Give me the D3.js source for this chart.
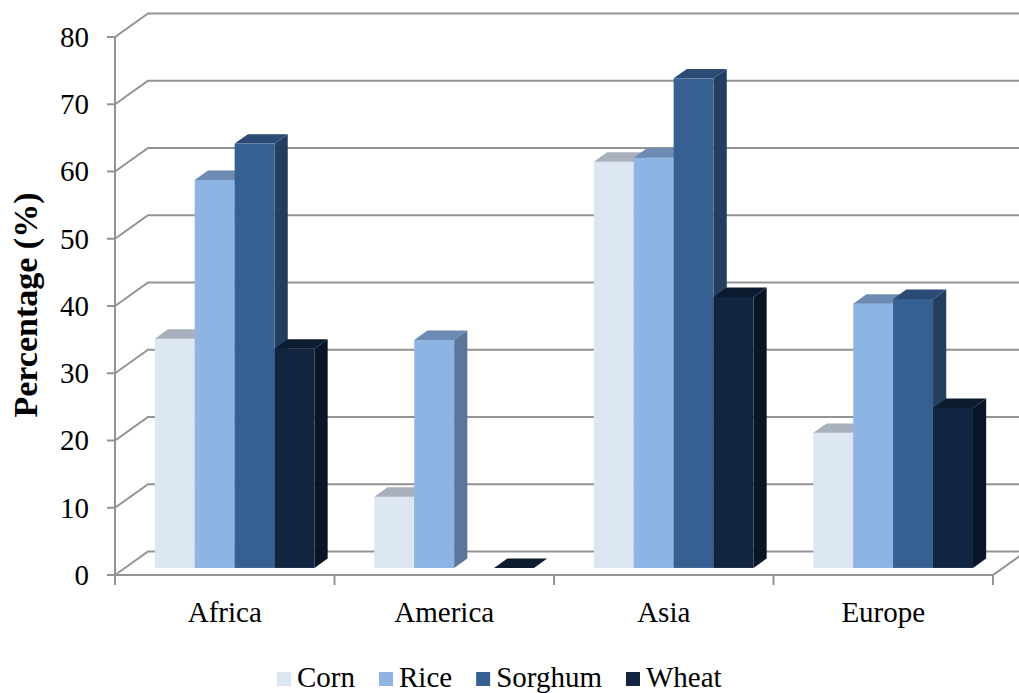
<!DOCTYPE html>
<html>
<head>
<meta charset="utf-8">
<script src="https://cdn.jsdelivr.net/npm/d3@7"></script>
<style>
  html, body { margin: 0; padding: 0; background: #fff; }
  svg { display: block; }
</style>
</head>
<body>
<script>
// Share of samples per region and cereal (%)
const regions = ["Africa", "America", "Asia", "Europe"];
const cereals = ["Corn", "Rice", "Sorghum", "Wheat"];
const corn    = [34.1, 10.6, 60.4, 20.1];
const rice    = [57.7, 33.9, 61.0, 39.3];
const sorghum = [63.1, null, 72.8, 40.0];
const wheat   = [32.6, 0,    40.3, 23.8];
const yTicks  = [0, 10, 20, 30, 40, 50, 60, 70, 80];

const seriesValues = { Corn: corn, Rice: rice, Sorghum: sorghum, Wheat: wheat };

// face colours: front, top, side
const palette = {
  Corn:    { front: "#dce6f2", top: "#a7b0bc", side: "#aab5c3" },
  Rice:    { front: "#8eb4e3", top: "#6d8ab2", side: "#5b769b" },
  Sorghum: { front: "#366092", top: "#2b4b74", side: "#243e5f" },
  Wheat:   { front: "#112540", top: "#0c1b30", side: "#0a1627" }
};

const FONT = "Liberation Serif";

const W = 1019, H = 693;
const svg = d3.select("body").append("svg").attr("width", W).attr("height", H);

// front-plane scales
const y = d3.scaleLinear().domain([0, 80]).range([575, 37]);
const x = d3.scaleBand().domain(regions).range([115, 993]).paddingInner(0).paddingOuter(0);
const xs = d3.scaleBand().domain(cereals).range([0, x.bandwidth()]).paddingInner(0).paddingOuter(0.75);

// oblique depth projection: 0 = front edge of floor, 1 = back wall
const depthX = d3.scaleLinear().domain([0, 1]).range([0, 33]);
const depthY = d3.scaleLinear().domain([0, 1]).range([0, -23.5]);
const barFront = 0.3, barBack = 0.7;

const gridColor = "#939393";

// back-wall gridlines and left-wall diagonals
const grid = svg.append("g");
yTicks.forEach(t => {
  const yy = y(t);
  grid.append("path")
    .attr("d", `M${x.range()[0]},${yy} L${x.range()[0] + depthX(1)},${yy + depthY(1)} L${W + 5},${yy + depthY(1)}`)
    .attr("fill", "none").attr("stroke", gridColor).attr("stroke-width", 2);
});

// floor front edge and right diagonal
const x0 = x.range()[0], x1 = x.range()[1];
svg.append("path")
  .attr("d", `M${x0},${y(0)} L${x1},${y(0)} L${x1 + depthX(1)},${y(0) + depthY(1)}`)
  .attr("fill", "none").attr("stroke", gridColor).attr("stroke-width", 2);

// value axis
const yAxis = svg.append("g");
yAxis.append("line").attr("x1", x0).attr("x2", x0).attr("y1", y(80)).attr("y2", y(0) + 10)
  .attr("stroke", gridColor).attr("stroke-width", 2);
yTicks.forEach(t => {
  yAxis.append("line").attr("x1", x0 - 8).attr("x2", x0).attr("y1", y(t)).attr("y2", y(t))
    .attr("stroke", gridColor).attr("stroke-width", 2);
  yAxis.append("text").attr("x", 89).attr("y", y(t)).attr("dy", "0.34em")
    .attr("text-anchor", "end").attr("font-size", 29).attr("fill", "#000")
    .style("font-family", FONT).text(t);
});

// category axis ticks and labels
const catAxis = svg.append("g");
regions.concat(["__end"]).forEach((r, i) => {
  const xx = i < regions.length ? x(r) : x1;
  catAxis.append("line").attr("x1", xx).attr("x2", xx).attr("y1", y(0)).attr("y2", y(0) + 10)
    .attr("stroke", gridColor).attr("stroke-width", 2);
});
regions.forEach(r => {
  catAxis.append("text").attr("x", x(r) + x.bandwidth() / 2).attr("y", 622)
    .attr("text-anchor", "middle").attr("font-size", 29).attr("fill", "#000")
    .style("font-family", FONT).text(r);
});

// 3D bars, drawn left to right so each bar hides its neighbour's side
const bars = svg.append("g");
const fdx = depthX(barFront), fdy = depthY(barFront);
const bdx = depthX(barBack) - fdx, bdy = depthY(barBack) - fdy;
regions.forEach((r, i) => {
  cereals.forEach(c => {
    const v = seriesValues[c][i];
    if (v === null || v === undefined) return;
    const L = x(r) + xs(c) + fdx;
    const R = L + xs.bandwidth();
    const B = y(0) + fdy;
    const T = y(v) + fdy;
    const col = palette[c];
    const g = bars.append("g");
    // side face
    g.append("path")
      .attr("d", `M${R},${B} L${R + bdx},${B + bdy} L${R + bdx},${T + bdy} L${R},${T} Z`)
      .attr("fill", col.side);
    // front face
    g.append("rect").attr("x", L).attr("y", T).attr("width", R - L).attr("height", Math.max(0, B - T))
      .attr("fill", col.front);
    // top face
    g.append("path")
      .attr("d", `M${L},${T} L${L + bdx},${T + bdy} L${R + bdx},${T + bdy} L${R},${T} Z`)
      .attr("fill", col.top);
  });
});

// axis title
svg.append("text")
  .attr("transform", "translate(37,305) rotate(-90)")
  .attr("text-anchor", "middle").attr("font-size", 34).attr("font-weight", "bold")
  .attr("fill", "#000").style("font-family", FONT)
  .text("Percentage (%)");

// legend
const legend = svg.append("g");
let lx = 277;
cereals.forEach(c => {
  legend.append("rect").attr("x", lx).attr("y", 672).attr("width", 14).attr("height", 14)
    .attr("fill", palette[c].front);
  const t = legend.append("text").attr("x", lx + 20).attr("y", 687).attr("font-size", 29)
    .attr("fill", "#000").style("font-family", FONT).text(c);
  lx += 20 + t.node().getComputedTextLength() + 24;
});
</script>
</body>
</html>
